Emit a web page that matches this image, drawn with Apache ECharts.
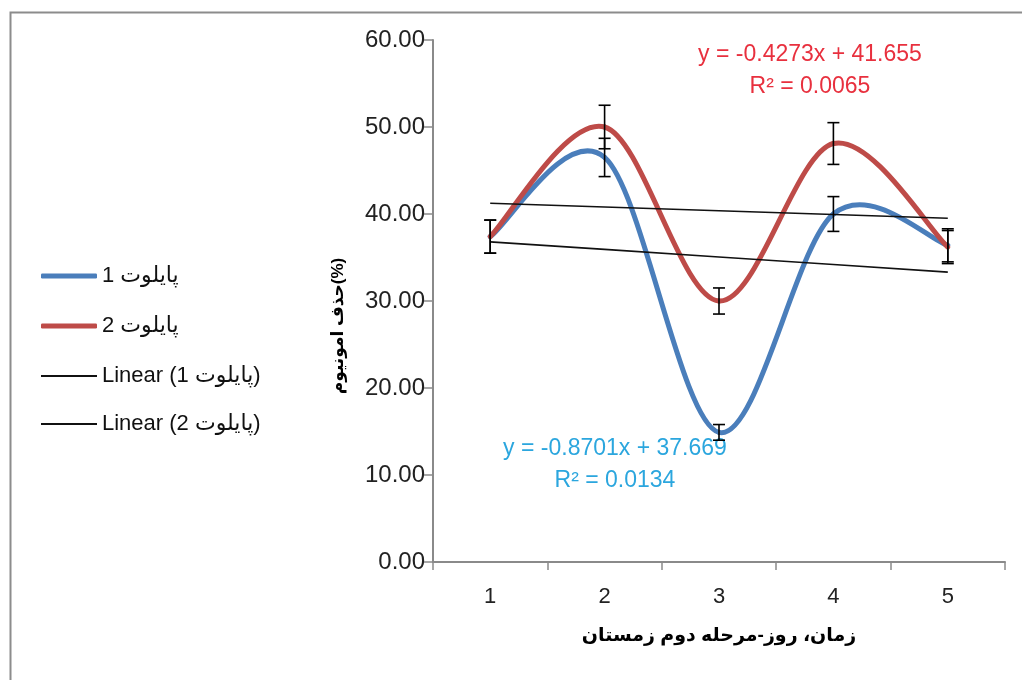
<!DOCTYPE html>
<html>
<head>
<meta charset="utf-8">
<script src="https://cdn.jsdelivr.net/npm/echarts@6/dist/echarts.min.js"></script>
<style>
  html, body { margin: 0; padding: 0; background: #fff; }
  #chart { width: 1022px; height: 680px; }
</style>
</head>
<body>
<div id="chart"></div>
<script>
// ---- data ----
const categories = ['1', '2', '3', '4', '5'];
const pilot1 = [37.4, 46.5, 14.9, 40.0, 36.4];
const pilot2 = [37.4, 50.0, 30.0, 48.1, 36.2];
const err1 = [1.9, 2.2, 0.9, 2.0, 1.9];
const err2 = [1.9, 2.5, 1.5, 2.4, 1.9];
const trendSlope = [-0.8701, -0.4273];
const trendIntercept = [37.669, 41.655];
const trendR2 = ['0.0134', '0.0065'];
const seriesNames = ['پایلوت 1', 'پایلوت 2'];
const trendNames = ['Linear (پایلوت 1)', 'Linear (پایلوت 2)'];
const yMin = 0, yMax = 60, yInterval = 10;

const FONT = '"Liberation Sans", "DejaVu Sans", sans-serif';
const BLUE = '#4A7EBB';
const RED = '#BE4B48';

function trendData(k) {
  return categories.map((c, i) => +(trendSlope[k] * (i + 1) + trendIntercept[k]).toFixed(4));
}
function errData(vals, errs) {
  return vals.map((v, i) => [i, v - errs[i], v + errs[i]]);
}
function errRender(params, api) {
  const x = api.value(0);
  const lo = api.coord([x, api.value(1)]);
  const hi = api.coord([x, api.value(2)]);
  const w = 6;
  const st = { stroke: '#000', lineWidth: 1.6 };
  return {
    type: 'group',
    children: [
      { type: 'line', shape: { x1: lo[0], y1: lo[1], x2: hi[0], y2: hi[1] }, style: st },
      { type: 'line', shape: { x1: lo[0] - w, y1: lo[1], x2: lo[0] + w, y2: lo[1] }, style: st },
      { type: 'line', shape: { x1: hi[0] - w, y1: hi[1], x2: hi[0] + w, y2: hi[1] }, style: st }
    ]
  };
}
// Excel-like smoothed line (Catmull-Rom style Bezier segments through the data points)
function smoothRender(color) {
  return function (params, api) {
    const n = params.dataInsideLength;
    const i = params.dataIndexInside;
    if (i >= n - 1) return null;
    const pt = j => {
      const k = Math.max(0, Math.min(n - 1, j));
      return api.coord([api.value(0, k), api.value(1, k)]);
    };
    const p0 = pt(i - 1), p1 = pt(i), p2 = pt(i + 1), p3 = pt(i + 2);
    return {
      type: 'bezierCurve',
      shape: {
        x1: p1[0], y1: p1[1], x2: p2[0], y2: p2[1],
        cpx1: p1[0] + (p2[0] - p0[0]) / 6, cpy1: p1[1] + (p2[1] - p0[1]) / 6,
        cpx2: p2[0] - (p3[0] - p1[0]) / 6, cpy2: p2[1] - (p3[1] - p1[1]) / 6
      },
      style: { stroke: color, lineWidth: 5, fill: null, lineCap: 'round' }
    };
  };
}

const chart = echarts.init(document.getElementById('chart'), null, { renderer: 'canvas' });
chart.setOption({
  backgroundColor: '#fff',
  animation: false,
  textStyle: { fontFamily: FONT },
  grid: { left: 433, right: 17, top: 40, bottom: 118 },
  legend: [
    {
      data: seriesNames,
      orient: 'vertical',
      left: 36, top: 259,
      itemWidth: 56, itemHeight: 5, itemGap: 26,
      icon: 'roundRect',
      textStyle: { fontSize: 22, color: '#111', fontFamily: FONT, lineHeight: 24 }
    },
    {
      data: trendNames,
      orient: 'vertical',
      left: 36, top: 359,
      itemWidth: 56, itemHeight: 2, itemGap: 24,
      icon: 'rect',
      textStyle: { fontSize: 22, color: '#111', fontFamily: FONT, lineHeight: 24 }
    }
  ],
  xAxis: {
    type: 'category',
    data: categories,
    boundaryGap: true,
    name: 'زمان، روز-مرحله دوم زمستان',
    nameLocation: 'middle',
    nameGap: 64,
    nameTextStyle: { fontSize: 19, fontWeight: 'bold', color: '#000', fontFamily: FONT },
    axisLine: { lineStyle: { color: '#8a8a8a', width: 2 } },
    axisTick: { show: true, length: 8, lineStyle: { color: '#8a8a8a', width: 1.5 } },
    axisLabel: { fontSize: 22, color: '#222', margin: 24, fontFamily: FONT },
    splitLine: { show: false }
  },
  yAxis: {
    type: 'value',
    min: yMin, max: yMax, interval: yInterval,
    name: 'حذف امونیوم(%)',
    nameLocation: 'middle',
    nameGap: 86,
    nameRotate: 90,
    nameTextStyle: { fontSize: 17, fontWeight: 'bold', color: '#000', fontFamily: FONT, padding: [0, 50, 0, 0] },
    axisLine: { show: true, lineStyle: { color: '#8a8a8a', width: 2 } },
    axisTick: { show: true, length: 9, lineStyle: { color: '#8a8a8a', width: 1.5 } },
    axisLabel: { fontSize: 24, color: '#222', margin: 8, fontFamily: FONT, formatter: v => v.toFixed(2) },
    splitLine: { show: false }
  },
  series: [
    {
      name: seriesNames[0], type: 'custom',
      renderItem: smoothRender(BLUE),
      data: pilot1.map((v, i) => [i, v]),
      encode: { x: 0, y: 1 },
      itemStyle: { color: BLUE },
      z: 2, silent: true
    },
    {
      name: seriesNames[1], type: 'custom',
      renderItem: smoothRender(RED),
      data: pilot2.map((v, i) => [i, v]),
      encode: { x: 0, y: 1 },
      itemStyle: { color: RED },
      z: 3, silent: true
    },
    {
      name: trendNames[0], type: 'line', data: trendData(0),
      showSymbol: false, symbol: 'none', z: 4,
      itemStyle: { color: '#111' },
      lineStyle: { color: '#111', width: 1.6 }
    },
    {
      name: trendNames[1], type: 'line', data: trendData(1),
      showSymbol: false, symbol: 'none', z: 4,
      itemStyle: { color: '#111' },
      lineStyle: { color: '#111', width: 1.6 }
    },
    { type: 'custom', renderItem: errRender, data: errData(pilot1, err1), encode: { x: 0, y: [1, 2] }, z: 5, silent: true },
    { type: 'custom', renderItem: errRender, data: errData(pilot2, err2), encode: { x: 0, y: [1, 2] }, z: 5, silent: true }
  ],
  graphic: [
    { type: 'rect', left: 8, top: 10, shape: { width: 1040, height: 700 }, style: { fill: 'none', stroke: '#8c8c8c', lineWidth: 2 }, silent: true, z: -1 },
    { type: 'text', x: 810, y: 55, style: { text: 'y = ' + trendSlope[1] + 'x + ' + trendIntercept[1], fill: '#E8303E', font: '23px ' + FONT, align: 'center', verticalAlign: 'middle' } },
    { type: 'text', x: 810, y: 87, style: { text: 'R² = ' + trendR2[1], fill: '#E8303E', font: '23px ' + FONT, align: 'center', verticalAlign: 'middle' } },
    { type: 'text', x: 615, y: 449, style: { text: 'y = ' + trendSlope[0] + 'x + ' + trendIntercept[0], fill: '#2BA6DE', font: '23px ' + FONT, align: 'center', verticalAlign: 'middle' } },
    { type: 'text', x: 615, y: 481, style: { text: 'R² = ' + trendR2[0], fill: '#2BA6DE', font: '23px ' + FONT, align: 'center', verticalAlign: 'middle' } }
  ]
});
</script>
</body>
</html>
